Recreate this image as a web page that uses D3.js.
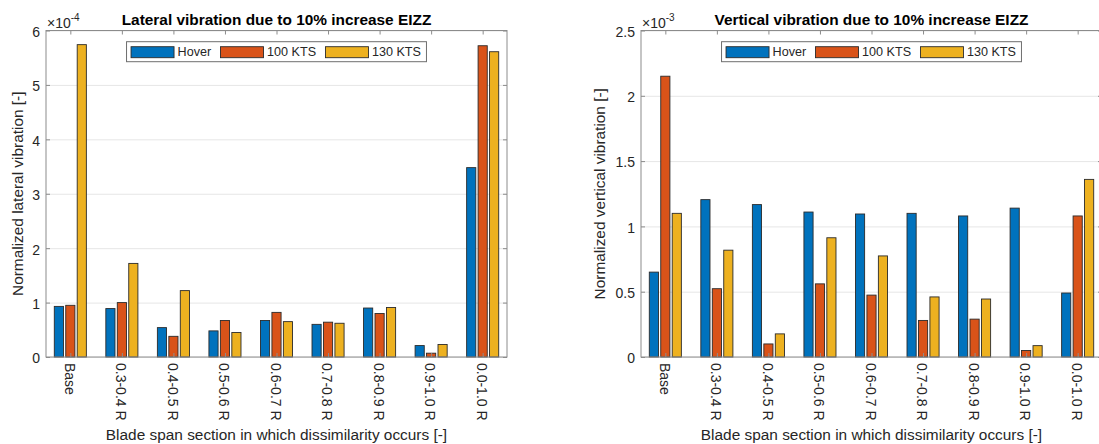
<!DOCTYPE html>
<html>
<head>
<meta charset="utf-8">
<script src="https://d3js.org/d3.v7.min.js"></script>
<style>
  body { margin: 0; background: #fff; }
  svg { display: block; font-family: "Liberation Sans", Arial, Helvetica, sans-serif; }
  .grid line { stroke: #e6e6e6; }
  .grid .domain { display: none; }
  .ticks .domain { display: none; }
</style>
</head>
<body>
<svg id="chart" width="1099" height="444"></svg>
<script>
// categories on the x axis
const categories = ["Base", "0.3-0.4 R", "0.4-0.5 R", "0.5-0.6 R", "0.6-0.7 R",
                    "0.7-0.8 R", "0.8-0.9 R", "0.9-1.0 R", "0.0-1.0 R"];
const seriesNames = ["Hover", "100 KTS", "130 KTS"];
const seriesColors = ["#0072BD", "#D95319", "#EDB120"];

// lateral vibration, in units of 1e-4
const lateralHover  = [0.93, 0.89, 0.54, 0.48, 0.67, 0.60, 0.90, 0.21, 3.48];
const lateral100    = [0.95, 1.00, 0.38, 0.67, 0.82, 0.64, 0.80, 0.07, 5.72];
const lateral130    = [5.74, 1.72, 1.22, 0.45, 0.65, 0.62, 0.91, 0.23, 5.61];
const lateralTicks  = [0, 1, 2, 3, 4, 5, 6];

// vertical vibration, in units of 1e-3
const verticalHover = [0.65, 1.205, 1.167, 1.11, 1.095, 1.10, 1.08, 1.14, 0.49];
const vertical100   = [2.15, 0.523, 0.10, 0.56, 0.474, 0.28, 0.29, 0.05, 1.08];
const vertical130   = [1.10, 0.818, 0.177, 0.913, 0.774, 0.46, 0.444, 0.087, 1.36];
const verticalTicks = [0, 0.5, 1, 1.5, 2, 2.5];

const svg = d3.select("#chart");
const axisGrey = "#8c8c8c";
const textGrey = "#262626";

function drawPanel(p) {
  const g = svg.append("g");
  const x = d3.scaleLinear().domain([0.528, 9.472]).range([p.left, p.right]);
  const y = d3.scaleLinear().domain([0, p.ymax]).range([p.bottom, p.top]);

  // horizontal gridlines
  g.append("g").attr("class", "grid")
    .attr("transform", "translate(" + p.left + ",0)")
    .call(d3.axisLeft(y).tickValues(p.ticks).tickSize(-(p.right - p.left)).tickFormat(""));

  // bars, matlab style grouped layout
  const n = p.series.length;
  const slot = Math.min(0.8, n / (n + 1.5)) / n;
  const bw = x(0.8 * slot) - x(0);
  p.series.forEach((vals, s) => {
    g.append("g").selectAll("rect").data(vals).join("rect")
      .attr("x", (d, i) => x(i + 1 + (s - (n - 1) / 2) * slot) - bw / 2)
      .attr("y", d => y(d))
      .attr("width", bw)
      .attr("height", d => y(0) - y(d))
      .attr("fill", seriesColors[s])
      .attr("stroke", "#2b2b2b")
      .attr("stroke-width", 0.9);
  });

  // box
  g.append("rect")
    .attr("x", p.left).attr("y", p.top)
    .attr("width", p.right - p.left).attr("height", p.bottom - p.top)
    .attr("fill", "none").attr("stroke", axisGrey).attr("stroke-width", 1);

  // y ticks + labels
  g.append("g").attr("class", "ticks")
    .attr("transform", "translate(" + p.left + ",0)")
    .style("color", axisGrey)
    .call(d3.axisLeft(y).tickValues(p.ticks).tickSize(-4).tickPadding(6).tickFormat(d3.format("")))
    .selectAll("text")
      .attr("fill", textGrey).attr("font-size", 14).attr("dy", "0.42em")
      .attr("font-family", null);
  g.append("g").attr("class", "ticks")
    .attr("transform", "translate(" + p.right + ",0)")
    .style("color", axisGrey)
    .call(d3.axisRight(y).tickValues(p.ticks).tickSize(-4).tickFormat(""));

  // x ticks + rotated labels
  const xTicks = categories.map((c, i) => i + 1);
  g.append("g").attr("class", "ticks")
    .attr("transform", "translate(0," + p.bottom + ")")
    .style("color", axisGrey)
    .call(d3.axisBottom(x).tickValues(xTicks).tickSize(-4).tickFormat(i => categories[i - 1]))
    .selectAll("text")
      .attr("fill", textGrey).attr("font-size", 14).attr("font-family", null)
      .attr("transform", "rotate(90)")
      .attr("x", 6).attr("y", 0).attr("dy", "0.45em")
      .attr("text-anchor", "start");
  g.append("g").attr("class", "ticks")
    .attr("transform", "translate(0," + p.top + ")")
    .style("color", axisGrey)
    .call(d3.axisTop(x).tickValues(xTicks).tickSize(-4).tickFormat(""));

  // exponent
  const ex = g.append("text").attr("x", p.left + 1).attr("y", p.top - 3)
    .attr("font-size", 14).attr("fill", textGrey);
  ex.append("tspan").text("\u00d710");
  ex.append("tspan").attr("font-size", 10).attr("dy", -7).text(p.exponent);

  // title
  const cx = (p.left + p.right) / 2;
  g.append("text").attr("x", cx).attr("y", 25)
    .attr("text-anchor", "middle").attr("font-weight", "bold")
    .attr("font-size", 15.4).attr("fill", "#000").text(p.title);

  // axis labels
  g.append("text").attr("x", cx).attr("y", 440)
    .attr("text-anchor", "middle").attr("font-size", 15.4).attr("fill", textGrey)
    .text("Blade span section in which dissimilarity occurs [-]");
  g.append("text")
    .attr("transform", "translate(" + p.ylabelX + "," + (p.top + p.bottom) / 2 + ") rotate(-90)")
    .attr("text-anchor", "middle").attr("font-size", 15.4).attr("fill", textGrey)
    .text(p.ylabel);

  // legend, centred at the top
  const lg = g.append("g");
  const box = lg.append("rect").attr("fill", "#fff").attr("stroke", "#6e6e6e").attr("stroke-width", 1);
  let cur = 4.5;
  seriesNames.forEach((name, s) => {
    lg.append("rect").attr("x", cur).attr("y", 5).attr("width", 43).attr("height", 11)
      .attr("fill", seriesColors[s]).attr("stroke", "#2b2b2b").attr("stroke-width", 0.9);
    cur += 46.5;
    const t = lg.append("text").attr("x", cur).attr("y", 14.6)
      .attr("font-size", 12.6).attr("fill", textGrey).text(name);
    cur += t.node().getComputedTextLength();
    if (s < seriesNames.length - 1) cur += 9.4;
  });
  cur += 5.5;
  box.attr("x", 0).attr("y", 0).attr("width", cur).attr("height", 20);
  lg.attr("transform", "translate(" + (cx - cur / 2) + "," + 41.7 + ")");
}

drawPanel({
  left: 46, right: 507, top: 30.5, bottom: 357,
  ymax: 6, ticks: lateralTicks, exponent: "-4",
  series: [lateralHover, lateral100, lateral130],
  title: "Lateral vibration due to 10% increase EIZZ",
  ylabel: "Normalized lateral vibration [-]", ylabelX: 23
});

drawPanel({
  left: 641, right: 1102, top: 30.5, bottom: 357,
  ymax: 2.5, ticks: verticalTicks, exponent: "-3",
  series: [verticalHover, vertical100, vertical130],
  title: "Vertical vibration due to 10% increase EIZZ",
  ylabel: "Normalized vertical vibration [-]", ylabelX: 605
});
</script>
</body>
</html>
